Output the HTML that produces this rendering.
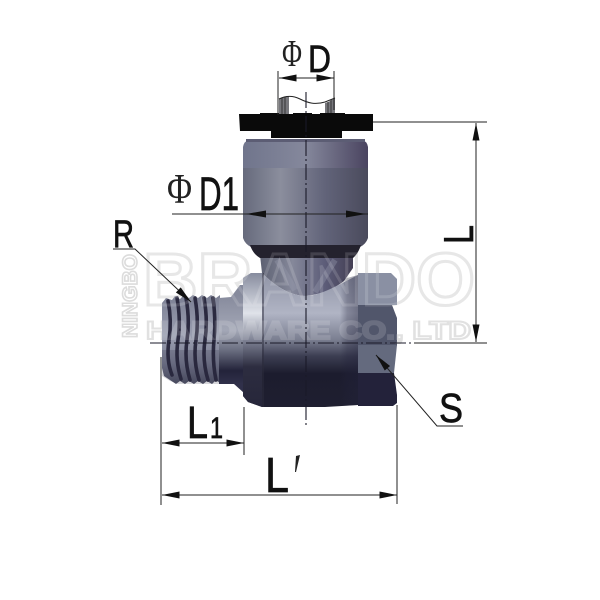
<!DOCTYPE html>
<html><head><meta charset="utf-8"><style>html,body{margin:0;padding:0;background:#fff}svg{display:block}text{font-family:"Liberation Sans",sans-serif}.s{font-family:"Liberation Serif",serif}.b{stroke:#111;stroke-width:.7}</style></head><body>
<svg width="600" height="600" viewBox="0 0 600 600" xmlns="http://www.w3.org/2000/svg">
<defs>
<linearGradient id="cap" x1="0" x2="1" y1="0" y2="0"><stop offset="0" stop-color="#666a7c"/><stop offset=".3" stop-color="#8b8e9d"/><stop offset=".65" stop-color="#62647a"/><stop offset="1" stop-color="#4a4a5c"/></linearGradient>
<linearGradient id="capTop" x1="0" x2="1" y1="0" y2="0"><stop offset="0" stop-color="#70758c"/><stop offset=".5" stop-color="#85889c"/><stop offset="1" stop-color="#4a4460"/></linearGradient>
<linearGradient id="neck" x1="0" x2="1" y1="0" y2="0"><stop offset="0" stop-color="#5d6172"/><stop offset=".35" stop-color="#85889a"/><stop offset=".7" stop-color="#5c5c78"/><stop offset="1" stop-color="#443f54"/></linearGradient>
<linearGradient id="body" gradientUnits="userSpaceOnUse" x1="0" x2="0" y1="273" y2="407"><stop offset="0" stop-color="#9094a6"/><stop offset=".3" stop-color="#b0b4c4"/><stop offset=".5" stop-color="#7a7e90"/><stop offset=".62" stop-color="#3c3e52"/><stop offset=".75" stop-color="#1c1c2e"/><stop offset="1" stop-color="#1f1f30"/></linearGradient>
<linearGradient id="band" gradientUnits="userSpaceOnUse" x1="0" x2="0" y1="273" y2="407"><stop offset="0" stop-color="#878c9e"/><stop offset=".3" stop-color="#e0e3ea"/><stop offset=".5" stop-color="#7e8294"/><stop offset=".7" stop-color="#2d2d40"/><stop offset="1" stop-color="#26263a"/></linearGradient>
<linearGradient id="shade" x1="0" x2="1" y1="0" y2="0"><stop offset="0" stop-color="#22223a" stop-opacity="0"/><stop offset=".4" stop-color="#22223a" stop-opacity=".3"/><stop offset="1" stop-color="#22223a" stop-opacity=".45"/></linearGradient>
<linearGradient id="thread" gradientUnits="userSpaceOnUse" x1="0" x2="0" y1="296" y2="384"><stop offset="0" stop-color="#7c8094"/><stop offset=".45" stop-color="#9a9eb0"/><stop offset=".75" stop-color="#7a7d92"/><stop offset="1" stop-color="#505266"/></linearGradient>
<linearGradient id="stub" gradientUnits="userSpaceOnUse" x1="0" x2="0" y1="295" y2="384"><stop offset="0" stop-color="#868a9c"/><stop offset=".4" stop-color="#a3a7b6"/><stop offset=".62" stop-color="#6a6e80"/><stop offset=".85" stop-color="#23233a"/><stop offset="1" stop-color="#30304a"/></linearGradient>
<marker id="a" viewBox="0 0 20 8" refX="20" refY="4" markerWidth="20" markerHeight="7" orient="auto-start-reverse" markerUnits="userSpaceOnUse"><path d="M0 0L20 4L0 8z" fill="#111"/></marker>
</defs>

<!-- watermark beneath -->
<g>
<text x="143" y="305" font-size="74" font-weight="700" fill="none" stroke="#e3e3e3" stroke-width="3" textLength="332" lengthAdjust="spacingAndGlyphs">BRANDO</text>
<text x="146" y="339" font-size="25" font-weight="700" fill="none" stroke="#dcdcdc" stroke-width="2" textLength="325" lengthAdjust="spacingAndGlyphs">HARDWARE CO., LTD</text>
<text transform="translate(137 338) rotate(-90)" font-size="21" font-weight="700" fill="none" stroke="#dcdcdc" stroke-width="1.6" textLength="84" lengthAdjust="spacingAndGlyphs">NINGBO</text>
</g>

<!-- tube stub -->
<path d="M279 99C285 97 292 95 300 99S315 105 325 101L334 98V116H279z" fill="#fff"/>
<path d="M279 99C282 98 285 96 289 96V128H279z" fill="#77777c"/>
<path d="M325 103C329 102 332 100 335 98V116H325z" fill="#77777c"/>
<path d="M282 98V116M285 97V116M328 102V116M331 100V116" stroke="#333" stroke-width="1"/>
<path d="M279 99C285 96 292 95 300 99S315 105 325 102L335 98" fill="none" stroke="#222" stroke-width="1"/>

<!-- lower neck -->
<path d="M260 255H353V268L344 281C330 292 315 295 306 296C292 296 277 288 262 273z" fill="url(#neck)"/>
<path d="M277 260L295 290M335 260L315 292" stroke="#9a9db0" stroke-width="6" opacity=".35"/>

<!-- cap -->
<path d="M243 168V147Q244 141 249 140H362Q367 141 368 147V168z" fill="url(#capTop)"/>
<path d="M243 168H368V238Q366 244 360 247H251Q245 244 243 238z" fill="url(#cap)"/>
<path d="M250 245H361Q358 254 353 258H260Q253 254 250 245z" fill="#24222e"/>
<rect x="246" y="139" width="119" height="3" fill="#5c5d74"/>

<!-- flange -->
<path d="M239 114H260V113H279V114H293V113H312V114H320V113H345V114H373V131H342V138H271V131H240z" fill="#0a0a0a"/>

<!-- thread -->
<path d="M162 303L166 298L172 300L175 296L180 299L184 295L189 298L193 295L198 298L202 295L207 298L211 295L216 298L220 295V383L216 380L212 384L207 381L203 384L198 381L194 384L189 381L185 384L180 381L176 384L170 380L164 376L162 368z" fill="url(#thread)"/>
<g stroke="#2b2a40" stroke-width="3.6" fill="none" stroke-linecap="round">
<path d="M168 301Q172 320 169 340T172 375"/>
<path d="M177 298Q181 320 178 340T181 379"/>
<path d="M186 298Q190 320 187 340T190 380"/>
<path d="M195 298Q199 320 196 340T199 380"/>
<path d="M204 298Q208 320 205 340T208 380"/>
<path d="M213 298Q216 320 214 340T216 380"/>
</g>
<path d="M162 350V376L170 381L178 384H220V350z" fill="#20203a" opacity=".18"/>

<!-- stub after thread -->
<path d="M219 298L231 297L240 285H244V393L234 384H219z" fill="url(#stub)"/>

<!-- main body -->
<path d="M243 278L251 273H262C277 288 292 296 306 296C320 296 340 284 358 275V405L342 406L325 407H262L248 402L243 396z" fill="url(#body)"/>
<path d="M340 280L358 275V405L340 406z" fill="url(#shade)"/>
<path d="M243 278L251 273H262V407L248 402L243 396z" fill="url(#band)"/>
<path d="M263 273V407" stroke="#2c2c3c" stroke-width="1"/>

<!-- hex -->
<path d="M358 273H391L397 279V305H358z" fill="#8a90a3"/>
<path d="M358 305H392L397 318V346H358z" fill="#51566b"/>
<path d="M358 345H397L394 373H358z" fill="#646a7e"/>
<path d="M358 373H394L397 395V403L393 406H358z" fill="#23223a"/>

<!-- watermark ghost over part -->
<g opacity=".14">
<text x="143" y="305" font-size="74" font-weight="700" fill="none" stroke="#fff" stroke-width="3" textLength="332" lengthAdjust="spacingAndGlyphs">BRANDO</text>
<text x="146" y="339" font-size="25" font-weight="700" fill="#fff" stroke="#fff" stroke-width="2" textLength="325" lengthAdjust="spacingAndGlyphs">HARDWARE CO., LTD</text>
</g>

<!-- centre lines -->
<path d="M306 92V425" stroke="#1a1a28" stroke-width="1.1" stroke-dasharray="16 3 2 3" fill="none"/>
<path d="M150 343H414" stroke="#1a1a28" stroke-width="1.1" stroke-dasharray="16 3 2 3" fill="none"/>

<!-- dimensions -->
<g stroke="#222" stroke-width="1" fill="none">
<path d="M278 71V115M334 71V110"/>
<path d="M279 78H334" marker-start="url(#a)" marker-end="url(#a)"/>
<path d="M172 214H368"/>
<path d="M373 122H487M414 343H487"/>
<path d="M476 123V342" marker-start="url(#a)" marker-end="url(#a)"/>
<path d="M161 357V505M244 407V455M397 405V504"/>
<path d="M162 443H244" marker-start="url(#a)" marker-end="url(#a)"/>
<path d="M162 495H397" marker-start="url(#a)" marker-end="url(#a)"/>
<path d="M113 249H135L191 302" marker-end="url(#a)"/>
<path d="M463 426H437L376 355" marker-end="url(#a)"/>
</g>
<path d="M246 214L266 210.500V217.500z" fill="#111"/>
<path d="M366 214L346 210.500V217.500z" fill="#111"/>

<!-- labels -->
<text class="s" x="282" y="66" font-size="38" fill="#222" textLength="20" lengthAdjust="spacingAndGlyphs">Φ</text>
<text class="b" x="308" y="72" font-size="38" fill="#111" textLength="23" lengthAdjust="spacingAndGlyphs">D</text>
<text class="s" x="167" y="203" font-size="42" fill="#222" textLength="25" lengthAdjust="spacingAndGlyphs">Φ</text>
<text class="b" x="199" y="210" font-size="47" fill="#111" textLength="40" lengthAdjust="spacingAndGlyphs">D1</text>
<text class="b" x="113" y="247" font-size="39" fill="#111" textLength="21" lengthAdjust="spacingAndGlyphs">R</text>
<text class="b" x="439" y="422" font-size="41" fill="#111" textLength="24" lengthAdjust="spacingAndGlyphs">S</text>
<text class="b" x="187" y="438" font-size="45" fill="#111" textLength="21" lengthAdjust="spacingAndGlyphs">L</text>
<text class="b" x="210" y="438" font-size="30" fill="#111" textLength="13" lengthAdjust="spacingAndGlyphs">1</text>
<text class="b" x="265" y="492" font-size="49" fill="#111" textLength="24" lengthAdjust="spacingAndGlyphs">L</text>
<path d="M296 456L300 455L296 472H295z" fill="#222"/>
<text class="b" transform="translate(473 244) rotate(-90)" font-size="42" fill="#111" textLength="19" lengthAdjust="spacingAndGlyphs">L</text>
</svg>
</body></html>
